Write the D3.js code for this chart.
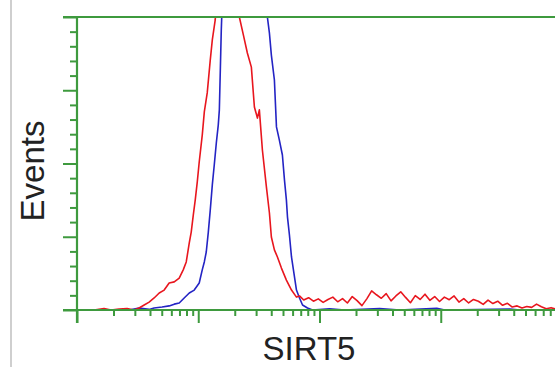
<!DOCTYPE html>
<html>
<head>
<meta charset="utf-8">
<script src="https://cdn.jsdelivr.net/npm/d3@7"></script>
<style>
  html, body { margin: 0; padding: 0; background: #fff; }
  svg { display: block; }
</style>
</head>
<body>
<svg id="chart" width="555" height="367"></svg>
<script>
// ---- data (x stored as log10 of intensity, y as event counts) ----
const redLog = [0.017,0.140,0.223,0.281,0.347,0.413,0.471,0.512,0.554,0.595,0.636,0.678,0.719,0.760,0.802,0.843,0.876,0.901,0.926,0.942,0.959,0.975,0.992,1.008,1.033,1.050,1.074,1.099,1.116,1.140,1.157,1.215,1.273,1.322,1.339,1.372,1.405,1.438,1.463,1.488,1.504,1.529,1.562,1.587,1.603,1.628,1.653,1.686,1.727,1.769,1.810,1.835,
  1.87,1.91,1.95,1.99,2.03,2.07,2.11,2.15,2.19,2.23,2.27,2.31,2.35,2.39,2.43,2.47,2.51,2.55,2.59,2.63,2.67,2.71,2.75,2.79,2.83,2.87,2.91,2.95,2.99,3.03,3.07,3.11,3.15,3.19,3.23,3.27,3.31,3.35,3.39,3.43,3.47,3.51,3.55,3.59,3.63,3.67,3.71,3.75,3.79,3.83,3.87,3.91,3.95,3.98];
const redCounts = [0,0,0.5,0,0.3,0.5,0,0.7,1.7,2.7,4.1,5.8,6.8,9.2,9.6,10.9,13.7,16.4,22.9,26.6,32.4,37.5,43.7,50.5,59.7,67.6,74.1,85.3,92.2,99,110,140,140,115,100,93.9,87.7,82.9,69.3,65.5,68.3,54.6,42,33.1,24.9,20.5,18.1,14.3,10.2,6.8,4.4,4.8,
  3.4,4.2,3.0,3.8,2.6,3.6,4.4,2.8,3.9,2.4,4.6,3.2,1.5,3.8,6.5,5.2,4.0,5.6,3.1,4.8,6.2,4.3,2.5,4.9,3.6,5.4,3.3,4.6,2.9,4.4,3.5,4.8,2.7,3.9,2.4,3.6,3.0,1.9,3.4,2.2,3.0,1.6,2.3,1.0,1.4,0.7,1.2,0.9,2.0,1.1,0.4,0.8,0.3,0.6];

const blueLog = [0.017,0.264,0.430,0.512,0.595,0.636,0.702,0.760,0.802,0.843,0.884,0.926,0.967,1.008,1.033,1.050,1.066,1.083,1.099,1.116,1.132,1.149,1.165,1.174,1.182,1.190,1.198,1.256,1.380,1.504,1.554,1.570,1.587,1.603,1.628,1.645,1.669,1.694,1.711,1.727,1.736,1.752,1.769,1.785,1.810,1.835,1.860,1.901,1.942,2.083,2.207,2.496,2.661,2.967,3.033,3.570,3.653,3.942];
const blueCounts = [0,0,0,0.7,0.2,0.7,1.0,1.4,2.0,2.4,4.1,5.8,6.8,9.2,13.7,16.4,19.8,26.6,34.1,42.7,49.5,57,63.1,68.3,81.9,95.6,105,135,160,140,108,100,94.5,87,78.5,62.5,58,52.9,44.4,37.5,31.7,25.6,18.1,13.7,6.8,4.1,1.7,0.7,0,0.4,0,0.5,0,0.6,0,0.3,0,0];

const xDomain = [1, 10000];
const yDomain = [0, 100];
const yMajorTicks = [0, 25, 50, 75, 100];
const xMajorTicks = [1, 10, 100, 1000, 10000];
const xLabel = "SIRT5";
const yLabel = "Events";

// ---- layout ----
const W = 555, H = 367;
const mLeft = 77, mTop = 17, mBottom = 310, xEnd = 562;
const green = "#3e9a3e";

const svg = d3.select("#chart");

// left grey border of the image
svg.append("line").attr("x1", 11).attr("x2", 11).attr("y1", 0).attr("y2", H)
  .attr("stroke", "#cfcfcf").attr("stroke-width", 2);

const x = d3.scaleLog().domain(xDomain).range([mLeft, xEnd]);
const y = d3.scaleLinear().domain(yDomain).range([mBottom, mTop]);

svg.append("defs").append("clipPath").attr("id", "plot")
  .append("rect").attr("x", mLeft).attr("y", mTop).attr("width", W - mLeft).attr("height", mBottom - mTop);

const line = d3.line().x(d => x(Math.pow(10, d[0]))).y(d => y(d[1]));
const blueData = blueLog.map((v, i) => [v, blueCounts[i]]);
const redData = redLog.map((v, i) => [v, redCounts[i]]);

const g = svg.append("g").attr("clip-path", "url(#plot)");
g.append("path").datum(blueData).attr("d", line).attr("fill", "none")
  .attr("stroke", "#2424c4").attr("stroke-width", 1.6).attr("stroke-linejoin", "round");
g.append("path").datum(redData).attr("d", line).attr("fill", "none")
  .attr("stroke", "#e8161e").attr("stroke-width", 1.6).attr("stroke-linejoin", "round");

// y axis: minor + major ticks
const yMinor = y.ticks(20).filter(v => !yMajorTicks.includes(v));
const gyMin = svg.append("g").attr("transform", `translate(${mLeft},0)`)
  .call(d3.axisLeft(y).tickValues(yMinor).tickSize(7).tickFormat(""));
const gyMaj = svg.append("g").attr("transform", `translate(${mLeft},0)`)
  .call(d3.axisLeft(y).tickValues(yMajorTicks).tickSize(14).tickFormat(""));

// x axis: log minor + decade ticks
const xMinor = x.ticks().filter(v => !xMajorTicks.includes(v));
const gxMin = svg.append("g").attr("transform", `translate(0,${mBottom})`)
  .call(d3.axisBottom(x).tickValues(xMinor).tickSize(6).tickFormat(""));
const gxMaj = svg.append("g").attr("transform", `translate(0,${mBottom})`)
  .call(d3.axisBottom(x).tickValues(xMajorTicks).tickSize(13).tickFormat(""));

[gyMin, gyMaj, gxMin, gxMaj].forEach(a => {
  a.select(".domain").remove();
  a.selectAll(".tick line").attr("stroke", green).attr("stroke-width", 2);
});

// axis lines and top frame
svg.append("line").attr("x1", mLeft).attr("x2", mLeft).attr("y1", mTop).attr("y2", mBottom + 13)
  .attr("stroke", green).attr("stroke-width", 2.2);
svg.append("line").attr("x1", mLeft - 14).attr("x2", W).attr("y1", mBottom).attr("y2", mBottom)
  .attr("stroke", green).attr("stroke-width", 2.2);
svg.append("line").attr("x1", mLeft - 14).attr("x2", W).attr("y1", mTop).attr("y2", mTop)
  .attr("stroke", green).attr("stroke-width", 2.2);

// labels
svg.append("text").attr("x", 309).attr("y", 360).attr("text-anchor", "middle")
  .attr("font-family", "Liberation Sans, Arial, sans-serif").attr("font-size", 33)
  .attr("fill", "#222").text(xLabel);
svg.append("text").attr("transform", "translate(44,171) rotate(-90)").attr("text-anchor", "middle")
  .attr("font-family", "Liberation Sans, Arial, sans-serif").attr("font-size", 33)
  .attr("fill", "#222").text(yLabel);
</script>
</body>
</html>
